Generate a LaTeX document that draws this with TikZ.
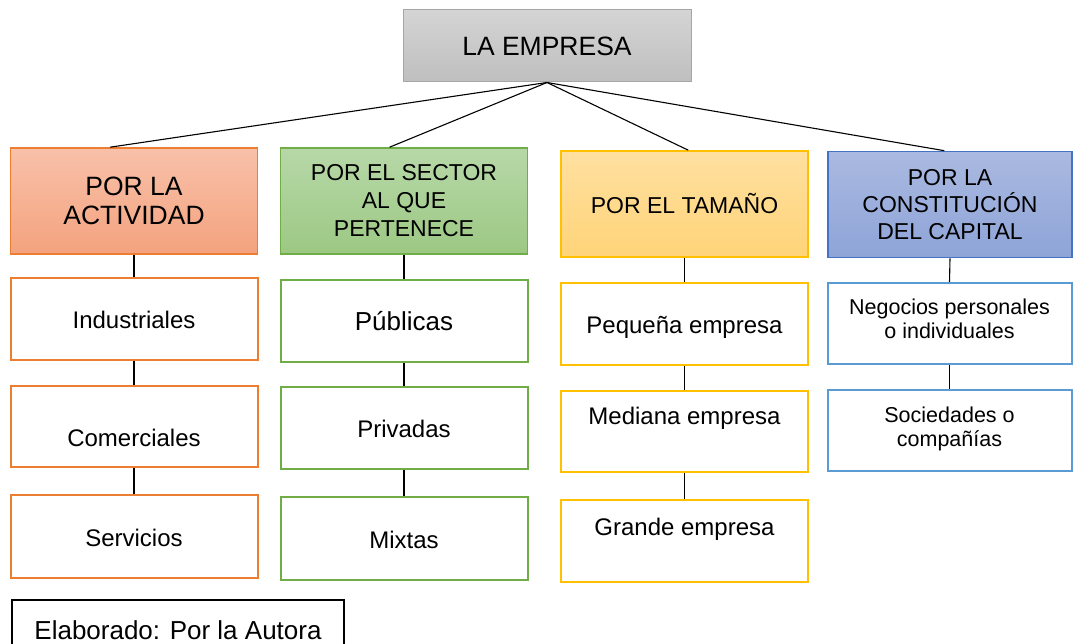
\documentclass[tikz,border=0pt]{standalone}
\usepackage{fontspec}
\setmainfont{Liberation Sans}
\definecolor{grisA}{HTML}{D4D4D4}
\definecolor{grisB}{HTML}{BFBFBF}
\definecolor{grisL}{HTML}{A6A6A6}
\definecolor{naraA}{HTML}{F8C1AA}
\definecolor{naraB}{HTML}{F4A27E}
\definecolor{naraL}{HTML}{ED7D31}
\definecolor{verdA}{HTML}{B7D8A8}
\definecolor{verdB}{HTML}{9CC883}
\definecolor{verdL}{HTML}{70AD47}
\definecolor{amarA}{HTML}{FFE0A0}
\definecolor{amarB}{HTML}{FFD479}
\definecolor{amarL}{HTML}{FFC000}
\definecolor{azulA}{HTML}{AAB9E0}
\definecolor{azulB}{HTML}{8EA4D8}
\definecolor{azulL}{HTML}{4472C4}
\definecolor{azulK}{HTML}{5B9BD5}

\begin{document}
\begin{tikzpicture}[x=1pt,y=-1pt,
    every node/.style={rectangle,inner sep=2pt,align=center},
    raiz/.style={draw=grisL,line width=1pt,top color=grisA,bottom color=grisB,
      minimum width=288,minimum height=72,font=\fontsize{26.5}{30}\selectfont},
    cab/.style={line width=1.6pt,minimum width=247,minimum height=106,
      font=\fontsize{23}{28}\selectfont},
    hijo/.style={draw=#1,fill=white,line width=2pt,minimum width=247,
      minimum height=82,font=\fontsize{24}{28}\selectfont,
      text height=24pt,text depth=5pt},
    bajo/.style={text height=45pt},
    alto/.style={text depth=38pt},
    medio/.style={text depth=35pt},
    grande/.style={font=\fontsize{26}{30}\selectfont},
    nada/.style={},
    enlace/.style={line width=1.1pt}]

    \useasboundingbox (0,0) rectangle (1073,644);

    %% RAIZ
    \node[raiz] (emp) at (547,46) {LA EMPRESA};

    %% CABECERAS
    \node[cab,draw=naraL,top color=naraA,bottom color=naraB,
      font=\fontsize{26.5}{29}\selectfont] (act) at (134,201) {POR LA\\ACTIVIDAD};
    \node[cab,draw=verdL,top color=verdA,bottom color=verdB] (sec) at (404,201)
      {POR EL SECTOR\\AL QUE\\PERTENECE};
    \node[cab,draw=amarL,top color=amarA,bottom color=amarB] (tam) at (684.5,204)
      {POR EL TAMAÑO};
    \node[cab,draw=azulL,top color=azulA,bottom color=azulB,minimum width=244,
      font=\fontsize{23}{27}\selectfont] (cap) at (950,204.5)
      {POR LA\\CONSTITUCIÓN\\DEL CAPITAL};

    \foreach \c/\a in {act/114, sec/105, tam/86, cap/96} {%
      \draw[enlace] (emp.south) -- (\c.\a);
    }

    %% HIJOS
    \foreach \n/\y/\h/\s/\t in {1/319/82/nada/Industriales,
        2/426.5/81/bajo/Comerciales, 3/536.5/83/nada/Servicios} {%
      \node[hijo=naraL,minimum height=\h,\s] (act\n) at (134,\y) {\t};
    }
    \foreach \n/\y/\h/\s/\t in {1/321/82/grande/Públicas,
        2/428/82/nada/Privadas, 3/538.5/83/nada/Mixtas} {%
      \node[hijo=verdL,minimum height=\h,\s] (sec\n) at (404,\y) {\t};
    }
    \foreach \n/\y/\h/\s/\t in {1/324/82/nada/Pequeña empresa,
        2/431.5/81/alto/Mediana empresa, 3/541/82/medio/Grande empresa} {%
      \node[hijo=amarL,minimum height=\h,\s] (tam\n) at (684.5,\y) {\t};
    }
    \node[hijo=azulK,minimum width=244,minimum height=81,text height=35pt,
      font=\fontsize{21.5}{24}\selectfont] (cap1) at (949.5,323.5)
      {Negocios personales\\o individuales};
    \node[hijo=azulK,minimum width=244,minimum height=81,text height=36pt,
      font=\fontsize{21.5}{24}\selectfont] (cap2) at (949.5,430.5)
      {Sociedades o\\compañías};

    %% CONECTORES VERTICALES
    \foreach \c in {act,sec,tam} {%
      \draw[enlace] (\c.south) -- (\c1.north);
      \draw[enlace] (\c1.south) -- (\c2.north);
      \draw[enlace] (\c2.south) -- (\c3.north);
    }
    \draw[enlace] (cap.south) -- (cap1.north);
    \draw[enlace] (cap1.south) -- (cap2.north);

    %% FUENTE
    \node[draw=black,line width=1.6pt,minimum width=332,minimum height=60,
      font=\fontsize{26}{30}\selectfont] (fte) at (178,630)
      {Elaborado: Por la Autora};
\end{tikzpicture}
\end{document}
